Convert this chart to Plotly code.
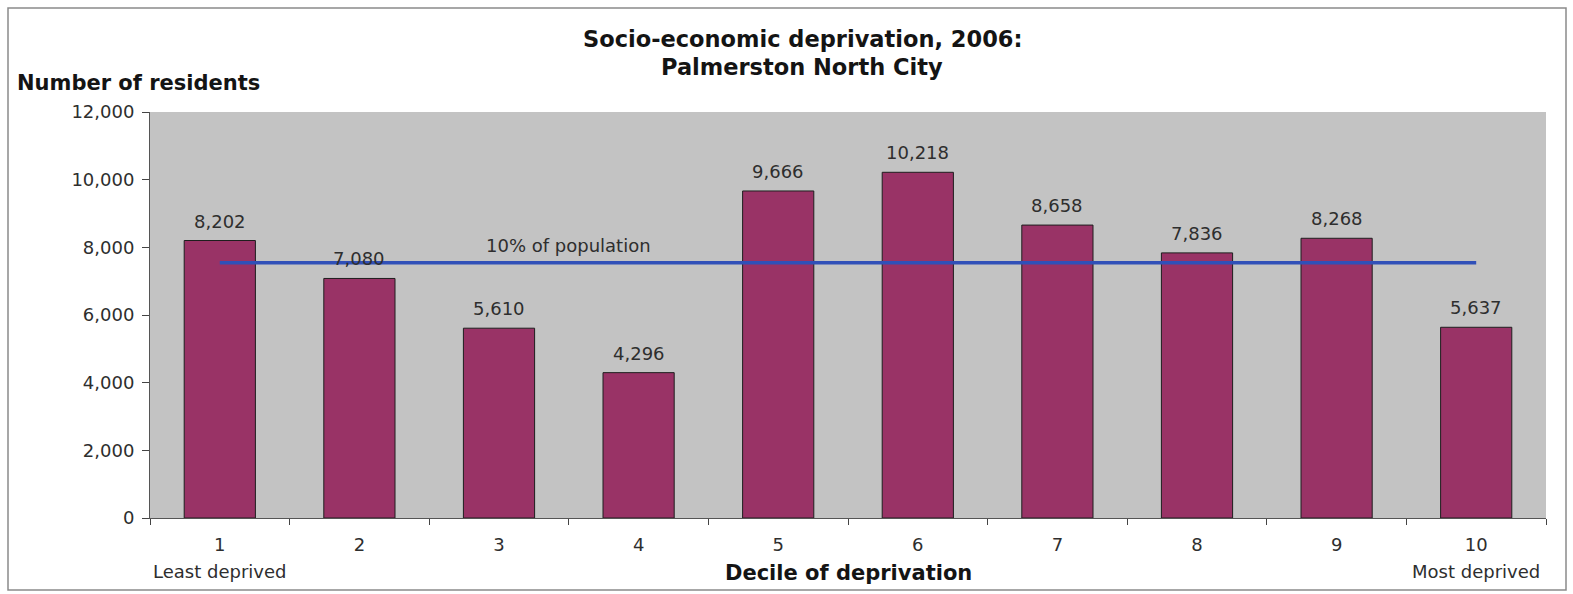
import plotly.graph_objects as go

# Residents per decile of socio-economic deprivation (NZDep2006)
deciles = ["1", "2", "3", "4", "5", "6", "7", "8", "9", "10"]
residents = [8202, 7080, 5610, 4296, 9666, 10218, 8658, 7836, 8268, 5637]
y_ticks = [0, 2000, 4000, 6000, 8000, 10000, 12000]

# Reference line: 10% of the total population
ten_pct = sum(residents) / 10

W, H = 1573, 594
L, R, T, B = 150, 27, 112, 76
pw, ph = W - L - R, H - T - B

FONT = "DejaVu Sans, Verdana, sans-serif"
TXT = "#2e2e2e"
BOLD_TXT = "#141414"
REG = 18
AXT = 21
TTL = 22.5

fig = go.Figure()
fig.add_trace(go.Bar(
    x=deciles, y=residents,
    width=0.51,
    marker=dict(color="#993366", line=dict(color="#1e1e1e", width=1)),
    showlegend=False,
    hoverinfo="x+y",
))
fig.add_trace(go.Scatter(
    x=[deciles[0], deciles[-1]], y=[ten_pct, ten_pct],
    mode="lines",
    line=dict(color="#3050b8", width=3.5),
    showlegend=False,
))


def px_x(p):
    return (p - L) / pw


def px_y(p):
    return (H - B - p) / ph


annotations = []
# value labels above each bar (category axis positions are 0-based indices)
for i, v in enumerate(residents):
    annotations.append(dict(
        x=i, y=v, xref="x", yref="y", text=f"{v:,}",
        showarrow=False, yanchor="bottom", yshift=7,
        font=dict(family=FONT, size=REG, color=TXT)))

annotations += [
    dict(x=2.5, y=ten_pct, xref="x", yref="y", text="10% of population",
         showarrow=False, yanchor="bottom", yshift=5,
         font=dict(family=FONT, size=REG, color=TXT)),
    dict(x=0, y=px_y(571), xref="x", yref="paper", text="Least deprived",
         showarrow=False, yanchor="middle",
         font=dict(family=FONT, size=REG, color=TXT)),
    dict(x=9, y=px_y(571), xref="x", yref="paper", text="Most deprived",
         showarrow=False, yanchor="middle",
         font=dict(family=FONT, size=REG, color=TXT)),
    dict(x=0.5, y=px_y(573), xref="paper", yref="paper",
         text="<b>Decile of deprivation</b>",
         showarrow=False, yanchor="middle",
         font=dict(family=FONT, size=AXT, color=BOLD_TXT)),
    dict(x=px_x(15), y=px_y(83), xref="paper", yref="paper",
         text="<b>Number of residents</b>", xanchor="left",
         showarrow=False, yanchor="middle",
         font=dict(family=FONT, size=AXT, color=BOLD_TXT)),
    dict(x=px_x(802), y=px_y(39), xref="paper", yref="paper",
         text="<b>Socio-economic deprivation, 2006:</b>",
         showarrow=False, yanchor="middle",
         font=dict(family=FONT, size=TTL, color=BOLD_TXT)),
    dict(x=px_x(802), y=px_y(67), xref="paper", yref="paper",
         text="<b>Palmerston North City</b>",
         showarrow=False, yanchor="middle",
         font=dict(family=FONT, size=TTL, color=BOLD_TXT)),
]

shapes = [
    dict(type="rect", xref="paper", yref="paper",
         x0=px_x(8), x1=px_x(1566), y0=px_y(590), y1=px_y(8),
         line=dict(color="#8a8a8a", width=1.5), fillcolor="rgba(0,0,0,0)",
         layer="below"),
]

fig.update_layout(
    width=W, height=H,
    margin=dict(l=L, r=R, t=T, b=B),
    paper_bgcolor="white",
    plot_bgcolor="#c3c3c3",
    annotations=annotations,
    shapes=shapes,
    xaxis=dict(
        type="category",
        tickson="boundaries",
        ticks="outside", ticklen=6, tickcolor="#444",
        showline=True, linecolor="#555", linewidth=1,
        showgrid=False,
        tickfont=dict(family=FONT, size=REG, color=TXT),
        ticklabelstandoff=10,
        range=[-0.5, 9.5],
    ),
    yaxis=dict(
        range=[0, 12000],
        tickvals=y_ticks,
        tickformat=",",
        ticks="outside", ticklen=7, tickcolor="#444",
        showline=True, linecolor="#555", linewidth=1,
        showgrid=False, zeroline=False,
        tickfont=dict(family=FONT, size=REG, color=TXT),
        ticklabelstandoff=4,
    ),
)

fig.write_html("out.html")
